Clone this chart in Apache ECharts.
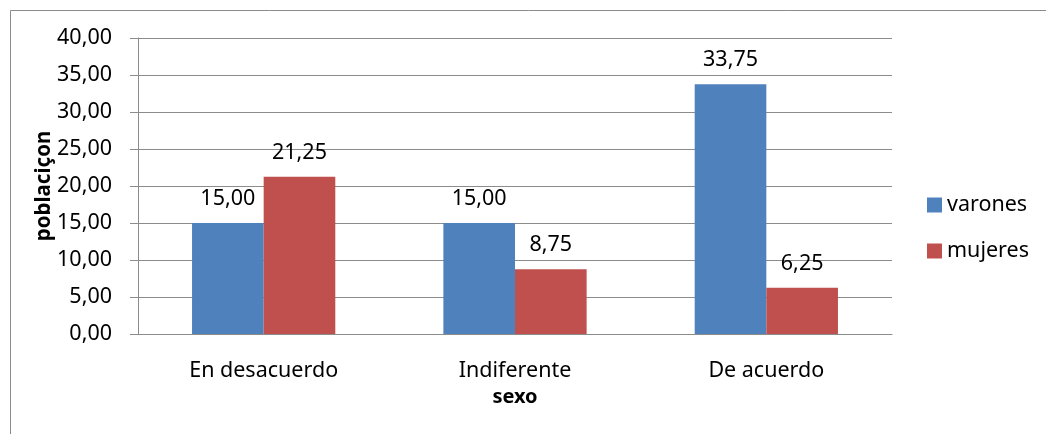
<!DOCTYPE html>
<html>
<head>
<meta charset="utf-8">
<title>poblacion por sexo</title>
<script src="https://cdn.jsdelivr.net/npm/echarts@6/dist/echarts.min.js"></script>
<style>
  html, body { margin: 0; padding: 0; background: #fff; }
  #chart { width: 1046px; height: 434px; }
</style>
</head>
<body>
<div id="chart"></div>
<script>
// datos
var categorias = ['En desacuerdo', 'Indiferente', 'De acuerdo'];
var varones = [15.00, 15.00, 33.75];
var mujeres = [21.25, 8.75, 6.25];
var nombres = ['varones', 'mujeres'];

var fuente = '"Noto Sans", "Open Sans", sans-serif';
function coma(v) { return Number(v).toFixed(2).replace('.', ','); }

var myChart = echarts.init(document.getElementById('chart'));
var option = {
  animation: false,
  textStyle: { fontFamily: fuente },
  graphic: [{
    type: 'rect',
    shape: { x: 10.5, y: 10.5, width: 1100, height: 500 },
    style: { fill: 'none', stroke: '#8c8c8c', lineWidth: 1 },
    silent: true
  }],
  grid: { left: 138, right: 154, top: 38, bottom: 100 },
  legend: {
    data: nombres,
    orient: 'vertical',
    left: 922,
    top: 189,
    itemWidth: 15,
    itemHeight: 15,
    itemGap: 24,
    icon: 'rect',
    textStyle: { fontSize: 21.5, color: '#000', fontFamily: fuente }
  },
  xAxis: {
    type: 'category',
    data: categorias,
    name: 'sexo',
    nameLocation: 'middle',
    nameGap: 49,
    nameTextStyle: { fontWeight: 'bold', fontSize: 20, color: '#000' },
    axisLine: { lineStyle: { color: '#8c8c8c' } },
    axisTick: { show: false },
    axisLabel: { fontSize: 21.5, color: '#000', margin: 26 }
  },
  yAxis: {
    type: 'value',
    min: 0,
    max: 40,
    interval: 5,
    name: 'poblaciçon',
    nameLocation: 'middle',
    nameGap: 83,
    nameMoveOverlap: false,
    nameRotate: 90,
    nameTextStyle: { fontWeight: 'bold', fontSize: 20.5, color: '#000' },
    axisLine: { show: true, lineStyle: { color: '#8c8c8c' } },
    axisTick: { show: true, inside: false, length: 8, lineStyle: { color: '#8c8c8c' } },
    splitLine: { lineStyle: { color: '#8c8c8c' } },
    axisLabel: { fontSize: 21.5, color: '#000', margin: 26, formatter: coma }
  },
  series: [
    {
      name: nombres[0],
      type: 'bar',
      data: varones,
      barGap: '0%',
      barCategoryGap: '43%',
      itemStyle: { color: '#4F81BD' },
      label: { show: true, position: 'top', distance: 13, fontSize: 21.5, color: '#000', formatter: function (p) { return coma(p.value); } }
    },
    {
      name: nombres[1],
      type: 'bar',
      data: mujeres,
      barGap: '0%',
      barCategoryGap: '43%',
      itemStyle: { color: '#C0504D' },
      label: { show: true, position: 'top', distance: 13, fontSize: 21.5, color: '#000', formatter: function (p) { return coma(p.value); } }
    }
  ]
};
myChart.setOption(option);
</script>
</body>
</html>
